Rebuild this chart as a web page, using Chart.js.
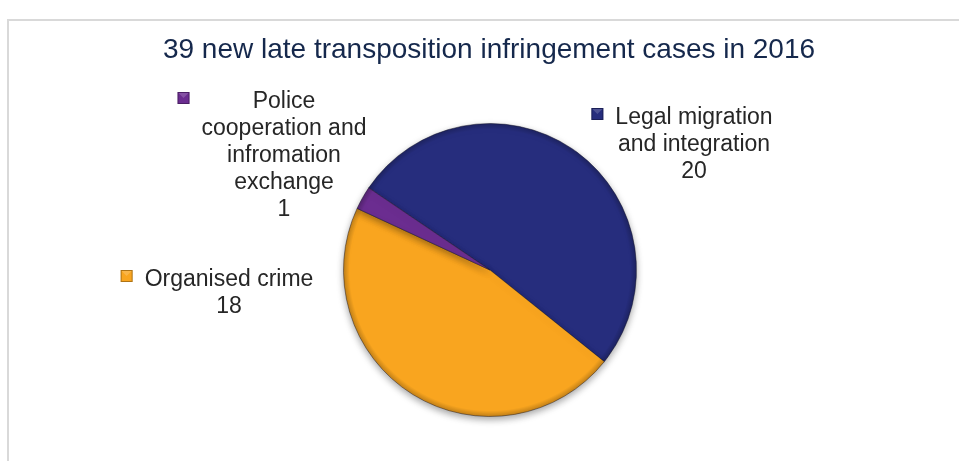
<!DOCTYPE html>
<html>
<head>
<meta charset="utf-8">
<script src="https://cdn.jsdelivr.net/npm/chart.js@4/dist/chart.umd.min.js"></script>
<style>
  html, body { margin: 0; padding: 0; background: #ffffff; }
  #wrap { width: 959px; height: 461px; position: relative; }
</style>
</head>
<body>
<div id="wrap"><canvas id="c" width="959" height="461"></canvas></div>
<script>
// ---- data ----
const chartTitle = '39 new late transposition infringement cases in 2016';
const categories = ['Legal migration and integration', 'Organised crime', 'Police cooperation and infromation exchange'];
const values = [20, 18, 1];
const labelLines = [
  ['Legal migration', 'and integration'],
  ['Organised crime'],
  ['Police', 'cooperation and', 'infromation', 'exchange']
];
const colors = ['#262d7d', '#f9a51f', '#6b2d90'];

// ---- layout (not data) ----
const labelAnchors = [
  { cx: 694, y: 124 },
  { cx: 229, y: 286 },
  { cx: 284, y: 108 }
];
const FONT = '"Liberation Sans", Arial, sans-serif';
const LABEL_SIZE = 23;
const LINE_H = 27;

const framePlugin = {
  id: 'frame',
  beforeDraw(chart) {
    const ctx = chart.ctx;
    ctx.save();
    ctx.fillStyle = '#ffffff';
    ctx.fillRect(0, 0, chart.width, chart.height);
    ctx.strokeStyle = '#d9d9d9';
    ctx.lineWidth = 2;
    ctx.strokeRect(8, 20, 1000, 500);
    ctx.fillStyle = '#15284c';
    ctx.font = '28px ' + FONT;
    ctx.textAlign = 'center';
    ctx.textBaseline = 'alphabetic';
    ctx.fillText(chartTitle, 489, 58);
    ctx.restore();
  }
};

const shadowPlugin = {
  id: 'pieShadow',
  beforeDatasetsDraw(chart) {
    const ctx = chart.ctx;
    ctx.save();
    ctx.shadowColor = 'rgba(0,0,0,0.35)';
    ctx.shadowBlur = 7;
    ctx.shadowOffsetY = 3;
  },
  afterDatasetsDraw(chart) {
    const ctx = chart.ctx;
    ctx.restore();
    // subtle dark rim for bevel look
    const arc = chart.getDatasetMeta(0).data[0];
    if (!arc) return;
    const { x, y, outerRadius } = arc.getProps(['x', 'y', 'outerRadius'], true);
    ctx.save();
    const g = ctx.createRadialGradient(x, y, outerRadius - 6, x, y, outerRadius);
    g.addColorStop(0, 'rgba(0,0,0,0)');
    g.addColorStop(1, 'rgba(0,0,0,0.22)');
    ctx.beginPath();
    ctx.arc(x, y, outerRadius, 0, Math.PI * 2);
    ctx.fillStyle = g;
    ctx.fill();
    ctx.restore();
  }
};

const labelPlugin = {
  id: 'outerLabels',
  afterDraw(chart) {
    const ctx = chart.ctx;
    const ds = chart.data.datasets[0];
    ctx.save();
    ctx.font = LABEL_SIZE + 'px ' + FONT;
    ctx.textAlign = 'center';
    ctx.textBaseline = 'alphabetic';
    chart.data.labels.forEach((lab, i) => {
      const lines = labelLines[i].concat([String(ds.data[i])]);
      const a = labelAnchors[i];
      let maxW = 0;
      lines.forEach(l => { maxW = Math.max(maxW, ctx.measureText(l).width); });
      ctx.fillStyle = '#262626';
      lines.forEach((l, k) => ctx.fillText(l, a.cx, a.y + k * LINE_H));
      // legend key square
      const sx = a.cx - maxW / 2 - 24;
      const sy = a.y - 16;
      const g = ctx.createLinearGradient(sx, sy, sx + 12, sy + 12);
      g.addColorStop(0, ds.backgroundColor[i]);
      g.addColorStop(1, ds.backgroundColor[i]);
      ctx.fillStyle = ds.backgroundColor[i];
      ctx.fillRect(sx, sy, 12, 12);
      ctx.strokeStyle = 'rgba(0,0,0,0.3)';
      ctx.lineWidth = 1;
      ctx.strokeRect(sx + 0.5, sy + 0.5, 11, 11);
      ctx.fillStyle = 'rgba(255,255,255,0.18)';
      ctx.beginPath();
      ctx.moveTo(sx + 1, sy + 1); ctx.lineTo(sx + 11, sy + 1); ctx.lineTo(sx + 6, sy + 6); ctx.closePath();
      ctx.fill();
    });
    ctx.restore();
  }
};

new Chart(document.getElementById('c'), {
  type: 'pie',
  data: {
    labels: categories,
    datasets: [{
      data: values,
      backgroundColor: colors,
      borderColor: 'rgba(20,20,40,0.45)',
      borderWidth: 1
    }]
  },
  options: {
    responsive: false,
    animation: false,
    rotation: 304.1,
    layout: { padding: { left: 343, right: 322, top: 123, bottom: 44 } },
    plugins: {
      legend: { display: false },
      title: { display: false },
      tooltip: { enabled: false }
    }
  },
  plugins: [framePlugin, shadowPlugin, labelPlugin]
});
</script>
</body>
</html>
